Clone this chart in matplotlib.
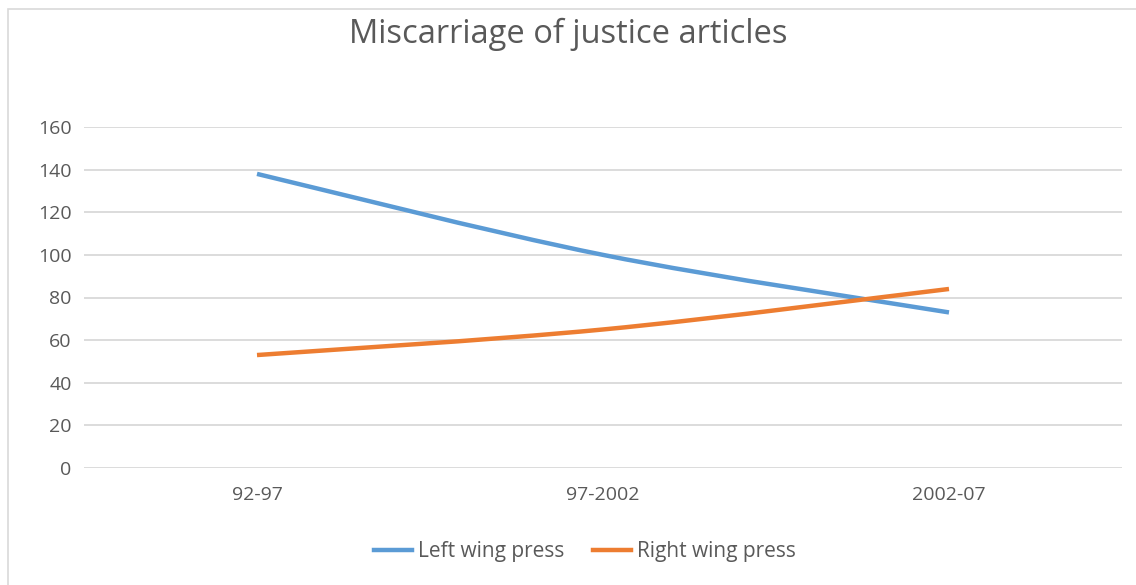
import numpy as np
import matplotlib.pyplot as plt
from matplotlib.path import Path
from matplotlib.patches import PathPatch, Rectangle
from matplotlib.lines import Line2D

# articles per period
periods = ["92-97", "97-2002", "2002-07"]
left_wing = [138, 100, 73]
right_wing = [53, 65, 84]

BLUE = "#5b9bd5"
ORANGE = "#ed7d31"
TEXT = "#595959"
GRID = "#d9d9d9"

plt.rcParams["font.family"] = ["Open Sans", "DejaVu Sans"]


def smooth_path(xs, ys):
    # Excel-style smoothed line: cubic bezier through every point
    pts = np.column_stack([xs, ys]).astype(float)
    n = len(pts)
    verts = [pts[0]]
    codes = [Path.MOVETO]
    for i in range(n - 1):
        p0 = pts[i - 1] if i > 0 else pts[i]
        p1 = pts[i]
        p2 = pts[i + 1]
        p3 = pts[i + 2] if i + 2 < n else pts[i + 1]
        c1 = p1 + (p2 - p0) / 6.0
        c2 = p2 - (p3 - p1) / 6.0
        verts += [c1, c2, p2]
        codes += [Path.CURVE4] * 3
    return Path(verts, codes)


fig = plt.figure(figsize=(11.36, 5.85), dpi=100)
ax = fig.add_axes([84 / 1136, 1 - 468 / 585, 1038 / 1136, 341 / 585])

x = np.arange(len(periods))
for vals, col in [(left_wing, BLUE), (right_wing, ORANGE)]:
    ax.add_patch(PathPatch(smooth_path(x, vals), facecolor="none",
                           edgecolor=col, lw=3.2, capstyle="butt"))

ax.set_xlim(-0.5, len(periods) - 0.5)
ax.set_ylim(0, 160)
ax.set_yticks(np.arange(0, 161, 20))
ax.set_xticks(x)
ax.set_xticklabels(periods)
ax.tick_params(length=0, colors=TEXT, labelsize=14)
ax.tick_params(axis="y", pad=9)
ax.tick_params(axis="x", pad=13)
ax.grid(axis="y", color=GRID, lw=1.3)
ax.set_axisbelow(True)
for s in ax.spines.values():
    s.set_visible(False)

fig.text(0.5, 1 - 34 / 585, "Miscarriage of justice articles",
         ha="center", va="center", fontsize=23.5, color=TEXT)

handles = [Line2D([], [], color=BLUE, lw=3.2),
           Line2D([], [], color=ORANGE, lw=3.2)]
fig.legend(handles, ["Left wing press", "Right wing press"],
           loc="center", bbox_to_anchor=(585 / 1136, 1 - 552 / 585), ncol=2,
           frameon=False, fontsize=15, labelcolor=TEXT,
           handlelength=1.8, handletextpad=0.3, columnspacing=1.4)

# chart frame
fig.patches.append(Rectangle((8 / 1136, -0.1), 1.2, 1 - 9 / 585 + 0.1,
                             transform=fig.transFigure, fill=False,
                             edgecolor="#d9d9d9", lw=1.2))

fig.savefig("out.png", dpi=100, facecolor="white")
